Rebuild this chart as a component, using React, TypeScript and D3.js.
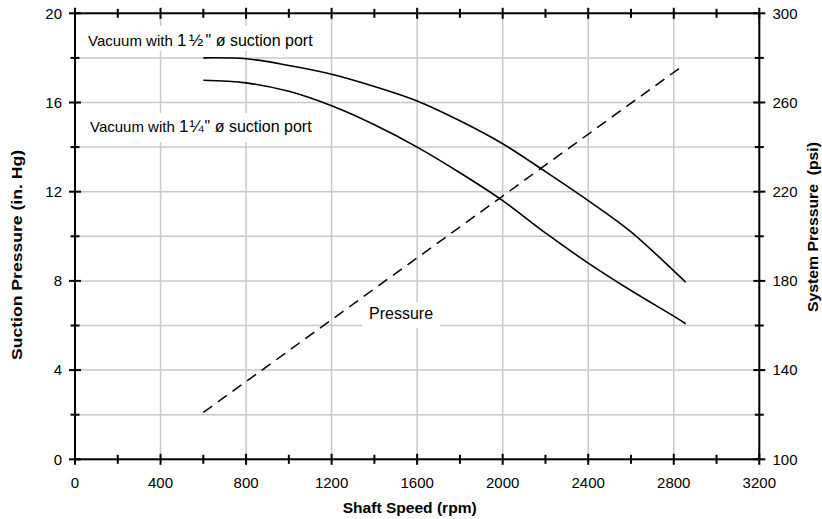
import React from "react";
import * as d3 from "d3";

const speedTicks = [0, 400, 800, 1200, 1600, 2000, 2400, 2800, 3200];
const suctionTicks = [0, 4, 8, 12, 16, 20];
const psiTicks = [100, 140, 180, 220, 260, 300];

const speed = [600, 800, 1000, 1200, 1400, 1600, 1800, 2000, 2200, 2400, 2600, 2800, 2856];
const vacuum150 = [18.0, 17.96, 17.66, 17.27, 16.72, 16.07, 15.18, 14.15, 12.9, 11.6, 10.2, 8.45, 7.94];
const vacuum125 = [17.0, 16.88, 16.5, 15.85, 15.0, 14.0, 12.85, 11.6, 10.15, 8.8, 7.57, 6.42, 6.08];

const pressureSpeed = [600, 2850];
const pressurePsi = [121, 277];

const W = 822, H = 519;
const L = 75, R = 759.3, T = 13.3, B = 459.3;
const font = "'Liberation Sans', Arial, sans-serif";

export default function App() {
  const x = d3.scaleLinear().domain([0, 3200]).range([L, R]);
  const y = d3.scaleLinear().domain([0, 20]).range([B, T]);
  const yr = d3.scaleLinear().domain([100, 300]).range([B, T]);

  const line = d3
    .line<number>()
    .x((_, i) => x(speed[i]))
    .y((d) => y(d))
    .curve(d3.curveCatmullRom.alpha(0.5));
  const pline = d3
    .line<number>()
    .x((_, i) => x(pressureSpeed[i]))
    .y((d) => yr(d));

  const xMinor = d3.range(0, 3201, 200);
  const yMinor = d3.range(0, 20.01, 2);

  return (
    <svg width={W} height={H} style={{ position: "absolute", left: 0, top: 0, background: "#fff" }} fontFamily={font}>
      <rect x={0} y={0} width={W} height={H} fill="#fff" />
      {/* grid */}
      {yMinor.map((v) => (
        <line key={"gy" + v} x1={L} x2={R} y1={y(v)} y2={y(v)} stroke="#c8c8c8" strokeWidth={1.5} />
      ))}
      {speedTicks.map((v) => (
        <line key={"gx" + v} x1={x(v)} x2={x(v)} y1={T} y2={B} stroke="#c8c8c8" strokeWidth={1.5} />
      ))}
      {/* label boxes */}
      <rect x={84} y={26} width={240} height={25} fill="#fff" />
      <rect x={86} y={113} width={240} height={29} fill="#fff" />
      <rect x={362} y={302} width={78} height={26} fill="#fff" />

      {/* curves */}
      <path d={line(vacuum150) ?? ""} fill="none" stroke="#000" strokeWidth={1.6} />
      <path d={line(vacuum125) ?? ""} fill="none" stroke="#000" strokeWidth={1.6} />
      <path d={pline(pressurePsi) ?? ""} fill="none" stroke="#000" strokeWidth={1.5} strokeDasharray="11,7" />

      {/* labels */}
      <text x={88} y={46} fontSize={15} fill="#000">
        Vacuum with <tspan fontSize={17} letterSpacing={2.5}>1½</tspan><tspan fontSize={16}>" ø suction port</tspan>
      </text>
      <text x={90} y={132} fontSize={15} fill="#000">
        Vacuum with <tspan fontSize={17} letterSpacing={1}>1¼</tspan><tspan fontSize={16}>" ø suction port</tspan>
      </text>
      <text x={369} y={319} fontSize={16} fill="#000">Pressure</text>

      {/* axes frame */}
      <rect x={L} y={T} width={R - L} height={B - T} fill="none" stroke="#000" strokeWidth={2} />

      {/* x ticks bottom and top */}
      {xMinor.map((v) => {
        const major = v % 400 === 0;
        const h = major ? 5.5 : 4.5;
        return (
          <g key={"xt" + v}>
            <line x1={x(v)} x2={x(v)} y1={B - h} y2={B + h} stroke="#000" strokeWidth={2} />
            <line x1={x(v)} x2={x(v)} y1={T - h} y2={T + h} stroke="#000" strokeWidth={2} />
          </g>
        );
      })}
      {/* y ticks left and right */}
      {yMinor.map((v) => {
        const major = v % 4 === 0;
        const h = major ? 6 : 4.5;
        return (
          <g key={"yt" + v}>
            <line x1={L - h} x2={L + h} y1={y(v)} y2={y(v)} stroke="#000" strokeWidth={2} />
            <line x1={R - h} x2={R + h} y1={y(v)} y2={y(v)} stroke="#000" strokeWidth={2} />
          </g>
        );
      })}

      {/* tick labels */}
      {speedTicks.map((v) => (
        <text key={"xl" + v} x={x(v)} y={488} fontSize={15} textAnchor="middle" fill="#000">
          {v}
        </text>
      ))}
      {suctionTicks.map((v) => (
        <text key={"yl" + v} x={62} y={y(v) + 5.3} fontSize={15} textAnchor="end" fill="#000">
          {v}
        </text>
      ))}
      {psiTicks.map((v) => (
        <text key={"rl" + v} x={772.5} y={yr(v) + 5.3} fontSize={15} textAnchor="start" fill="#000">
          {v}
        </text>
      ))}

      {/* axis titles */}
      <text x={409.7} y={513} fontSize={14} fontWeight="bold" textAnchor="middle" textLength={134} lengthAdjust="spacingAndGlyphs">
        Shaft Speed (rpm)
      </text>
      <text
        transform="translate(21.5,255) rotate(-90)"
        fontSize={14}
        fontWeight="bold"
        textAnchor="middle"
        textLength={210}
        lengthAdjust="spacingAndGlyphs"
      >
        Suction Pressure (in. Hg)
      </text>
      <text
        transform="translate(818,227) rotate(-90)"
        fontSize={14}
        fontWeight="bold"
        textAnchor="middle"
        textLength={170}
        lengthAdjust="spacingAndGlyphs"
        style={{ whiteSpace: "pre" }}
      >
        System Pressure  (psi)
      </text>
    </svg>
  );
}
